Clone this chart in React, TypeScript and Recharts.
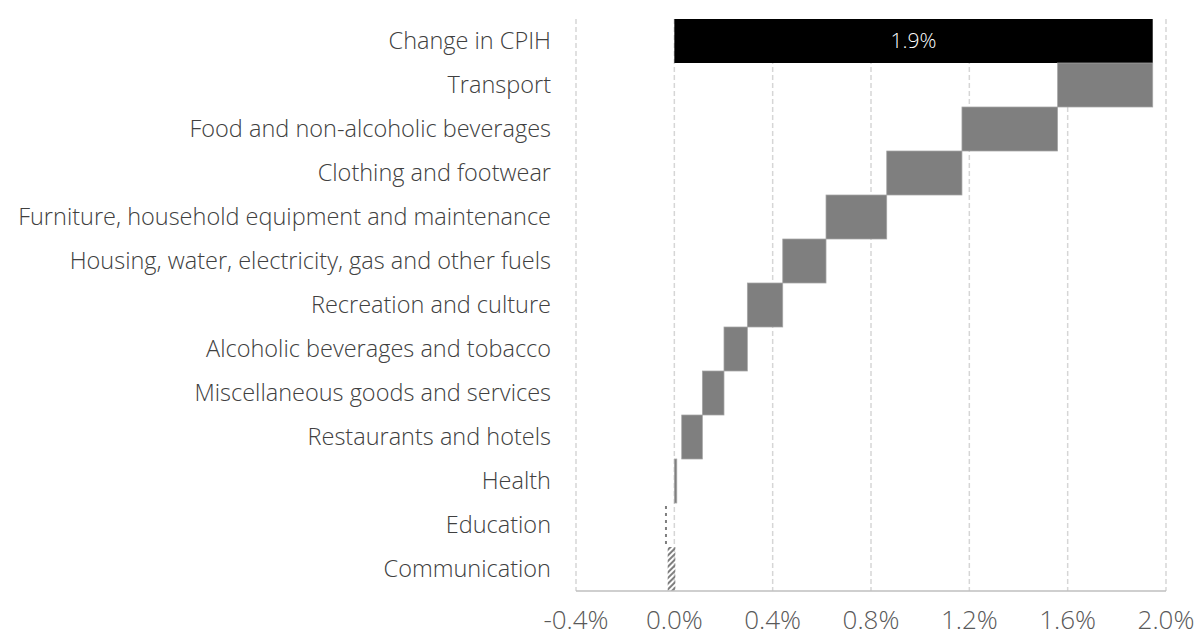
import { BarChart, Bar, XAxis, YAxis, CartesianGrid, LabelList } from "recharts";

const categories = [
  "Change in CPIH",
  "Transport",
  "Food and non-alcoholic beverages",
  "Clothing and footwear",
  "Furniture, household equipment and maintenance",
  "Housing, water, electricity, gas and other fuels",
  "Recreation and culture",
  "Alcoholic beverages and tobacco",
  "Miscellaneous goods and services ",
  "Restaurants and hotels",
  "Health",
  "Education",
  "Communication",
];

// waterfall: where each bar starts and ends (percentage points)
const starts = [0, 1.559, 1.17, 0.864, 0.617, 0.441, 0.297, 0.202, 0.114, 0.03, 0, -0.035, -0.027];
const ends = [1.946, 1.946, 1.559, 1.17, 0.864, 0.617, 0.441, 0.297, 0.202, 0.114, 0.01, -0.033, 0.004];
const barLabels = ["1.9%", "", "", "", "", "", "", "", "", "", "", "", ""];
const xTicks = [-0.4, 0, 0.4, 0.8, 1.2, 1.6, 2.0];

const FONT = "'Open Sans', sans-serif";

const data = categories.map((name, i) => ({
  name,
  range: [starts[i], ends[i]],
  label: barLabels[i],
}));

function WaterfallShape(props: any) {
  const { x, y, width, height, index } = props;
  const name = categories[index];
  if (index === 0) {
    return <rect x={x} y={y} width={width} height={height} fill="#000000" />;
  }
  if (name === "Education") {
    const cx = x + width / 2;
    return (
      <line
        x1={cx}
        x2={cx}
        y1={y + 3}
        y2={y + height - 2}
        stroke="#7f7f7f"
        strokeWidth={2}
        strokeDasharray="3 4"
      />
    );
  }
  if (name === "Communication") {
    return (
      <g>
        <defs>
          <pattern
            id="hatch"
            width="4"
            height="4"
            patternUnits="userSpaceOnUse"
            patternTransform="rotate(45)"
          >
            <rect width="2" height="4" fill="#7f7f7f" />
          </pattern>
        </defs>
        <rect x={x} y={y} width={width} height={height} fill="url(#hatch)" />
      </g>
    );
  }
  return (
    <rect
      x={x}
      y={y}
      width={width}
      height={height}
      fill="#7f7f7f"
      stroke="#a6a6a6"
      strokeWidth={0.75}
    />
  );
}

export default function App() {
  return (
    <div style={{ position: "absolute", left: 0, top: 0, background: "#fff" }}>
      <BarChart
        width={1197}
        height={641}
        data={data}
        layout="vertical"
        barCategoryGap={0}
        margin={{ top: 19, right: 31, bottom: 0, left: 0 }}
      >
        <CartesianGrid
          horizontal={false}
          stroke="#d6d6d6"
          strokeDasharray="5 3"
          strokeWidth={1.5}
        />
        <XAxis
          type="number"
          domain={[-0.4, 2.0]}
          ticks={xTicks}
          tickFormatter={(v: number) => v.toFixed(1) + "%"}
          axisLine={{ stroke: "#bfbfbf", strokeWidth: 1.5 }}
          tickLine={false}
          tickMargin={14}
          height={50}
          tick={{ fontSize: 26, fill: "#595959", fontFamily: FONT, fontWeight: 300 }}
        />
        <YAxis
          type="category"
          dataKey="name"
          width={576}
          axisLine={false}
          tickLine={false}
          tickMargin={19}
          interval={0}
          tick={{ fontSize: 23.5, fill: "#404040", fontFamily: FONT, fontWeight: 300 }}
        />
        <Bar dataKey="range" shape={WaterfallShape} isAnimationActive={false}>
          <LabelList
            dataKey="label"
            position="center"
            fill="#ffffff"
            fontSize={21}
            fontFamily={FONT}
            fontWeight={300}
          />
        </Bar>
      </BarChart>
    </div>
  );
}
